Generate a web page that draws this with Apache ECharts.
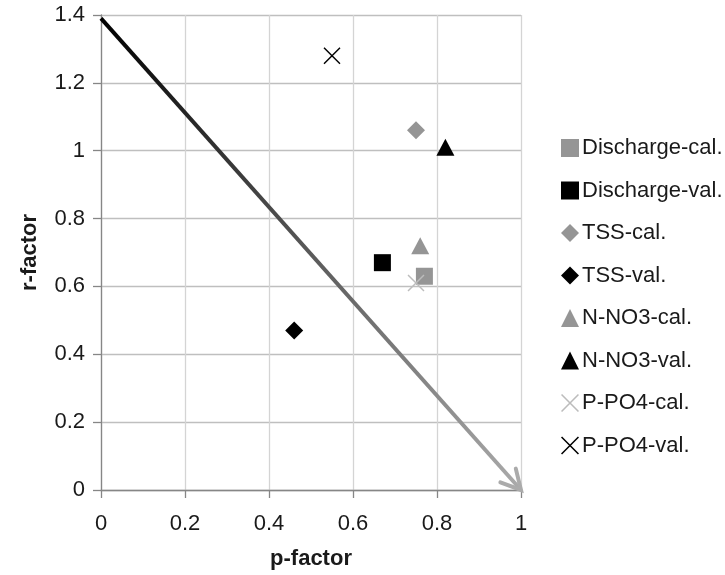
<!DOCTYPE html>
<html>
<head>
<meta charset="utf-8">
<script src="https://cdn.jsdelivr.net/npm/echarts@6/dist/echarts.min.js"></script>
<style>
html,body{margin:0;padding:0;background:#fff;}
#chart{width:725px;height:575px;}
</style>
</head>
<body>
<div id="chart"></div>
<script>
// ---- data ----
const seriesNames = ['Discharge-cal.','Discharge-val.','TSS-cal.','TSS-val.','N-NO3-cal.','N-NO3-val.','P-PO4-cal.','P-PO4-val.'];
const dischargeCal = [[0.77, 0.63]];
const dischargeVal = [[0.67, 0.67]];
const tssCal = [[0.75, 1.06]];
const tssVal = [[0.46, 0.47]];
const no3Cal = [[0.76, 0.72]];
const no3Val = [[0.82, 1.01]];
const po4Cal = [[0.75, 0.61]];
const po4Val = [[0.55, 1.28]];
const arrowStart = [0, 1.39];
const arrowEnd = [1, 0];
const xTicks = [0, 0.2, 0.4, 0.6, 0.8, 1];
const yTicks = [0, 0.2, 0.4, 0.6, 0.8, 1, 1.2, 1.4];

const FONT = 'Liberation Sans, Arial, sans-serif';
const GRAY = '#959595';
const LIGHT = '#bcbcbc';
const XSYM = 'path://M0,0.6 L0.6,0 L10,9.4 L9.4,10 Z M9.4,0 L10,0.6 L0.6,10 L0,9.4 Z';

const chart = echarts.init(document.getElementById('chart'));

function sc(name, data, symbol, color, size) {
  return {
    name: name, type: 'scatter', data: data, symbol: symbol, symbolSize: size,
    itemStyle: { color: color, opacity: 1 }, z: 5
  };
}

const option = {
  animation: false,
  backgroundColor: '#fff',
  textStyle: { fontFamily: FONT },
  grid: { left: 101, right: 204, top: 15, bottom: 84, containLabel: false },
  xAxis: {
    type: 'value', min: xTicks[0], max: xTicks[xTicks.length - 1], interval: 0.2,
    name: 'p-factor', nameLocation: 'middle', nameGap: 58,
    nameTextStyle: { fontFamily: FONT, fontSize: 22, fontWeight: 'bold', color: '#1a1a1a' },
    axisLine: { show: true, onZero: false, lineStyle: { color: '#868686', width: 1.3 } },
    axisTick: { show: true, inside: false, length: 8, lineStyle: { color: '#868686', width: 1.3 } },
    axisLabel: { fontFamily: FONT, fontSize: 22, color: '#1a1a1a', margin: 23 },
    splitLine: { show: true, lineStyle: { color: '#d4d4d4', width: 1.3 } }
  },
  yAxis: {
    type: 'value', min: yTicks[0], max: yTicks[yTicks.length - 1], interval: 0.2,
    name: 'r-factor', nameLocation: 'middle', nameGap: 60, nameRotate: 90,
    nameTextStyle: { fontFamily: FONT, fontSize: 22, fontWeight: 'bold', color: '#1a1a1a' },
    axisLine: { show: true, onZero: false, lineStyle: { color: '#868686', width: 1.3 } },
    axisTick: { show: true, inside: false, length: 8, lineStyle: { color: '#868686', width: 1.3 } },
    axisLabel: { fontFamily: FONT, fontSize: 22, color: '#1a1a1a', margin: 16 },
    splitLine: { show: true, lineStyle: { color: '#bfbfbf', width: 1.3 } }
  },
  legend: {
    orient: 'vertical', left: 556, top: 132,
    itemWidth: 18, itemHeight: 18, itemGap: 20.5,
    textStyle: { fontFamily: FONT, fontSize: 22, color: '#1a1a1a', padding: [0, 0, 0, -2] },
    data: seriesNames
  },
  series: [
    {
      type: 'custom', z: 2, silent: true,
      data: [[arrowStart[0], arrowStart[1], arrowEnd[0], arrowEnd[1]]],
      encode: { x: [0, 2], y: [1, 3] },
      renderItem: function (params, api) {
        const p0 = api.coord([api.value(0), api.value(1)]);
        const p1 = api.coord([api.value(2), api.value(3)]);
        const dx = p0[0] - p1[0], dy = p0[1] - p1[1];
        const len = Math.sqrt(dx * dx + dy * dy);
        const ux = dx / len, uy = dy / len;
        const L = 22, th = 28 * Math.PI / 180;
        const c = Math.cos(th), s = Math.sin(th);
        const a1 = [p1[0] + L * (ux * c - uy * s), p1[1] + L * (ux * s + uy * c)];
        const a2 = [p1[0] + L * (ux * c + uy * s), p1[1] + L * (-ux * s + uy * c)];
        const grad = new echarts.graphic.LinearGradient(p0[0], p0[1], p1[0], p1[1], [
          { offset: 0, color: '#000000' },
          { offset: 0.5, color: '#5a5a5a' },
          { offset: 1, color: '#ababab' }
        ], true);
        return {
          type: 'group',
          children: [
            { type: 'line', shape: { x1: p0[0], y1: p0[1], x2: p1[0] + ux * 2, y2: p1[1] + uy * 2 },
              style: { stroke: grad, lineWidth: 4, lineCap: 'butt' } },
            { type: 'polyline', shape: { points: [a1, p1, a2] },
              style: { stroke: '#ababab', fill: null, lineWidth: 4, lineJoin: 'miter', lineCap: 'round' } }
          ]
        };
      }
    },
    sc('Discharge-cal.', dischargeCal, 'rect', GRAY, 17),
    sc('Discharge-val.', dischargeVal, 'rect', '#000000', 17),
    sc('TSS-cal.', tssCal, 'diamond', GRAY, [18, 18]),
    sc('TSS-val.', tssVal, 'diamond', '#000000', [18, 18]),
    sc('N-NO3-cal.', no3Cal, 'triangle', GRAY, [18, 17]),
    sc('N-NO3-val.', no3Val, 'triangle', '#000000', [18, 17]),
    sc('P-PO4-cal.', po4Cal, XSYM, LIGHT, 17),
    sc('P-PO4-val.', po4Val, XSYM, '#000000', 17)
  ]
};
chart.setOption(option);
</script>
</body>
</html>
